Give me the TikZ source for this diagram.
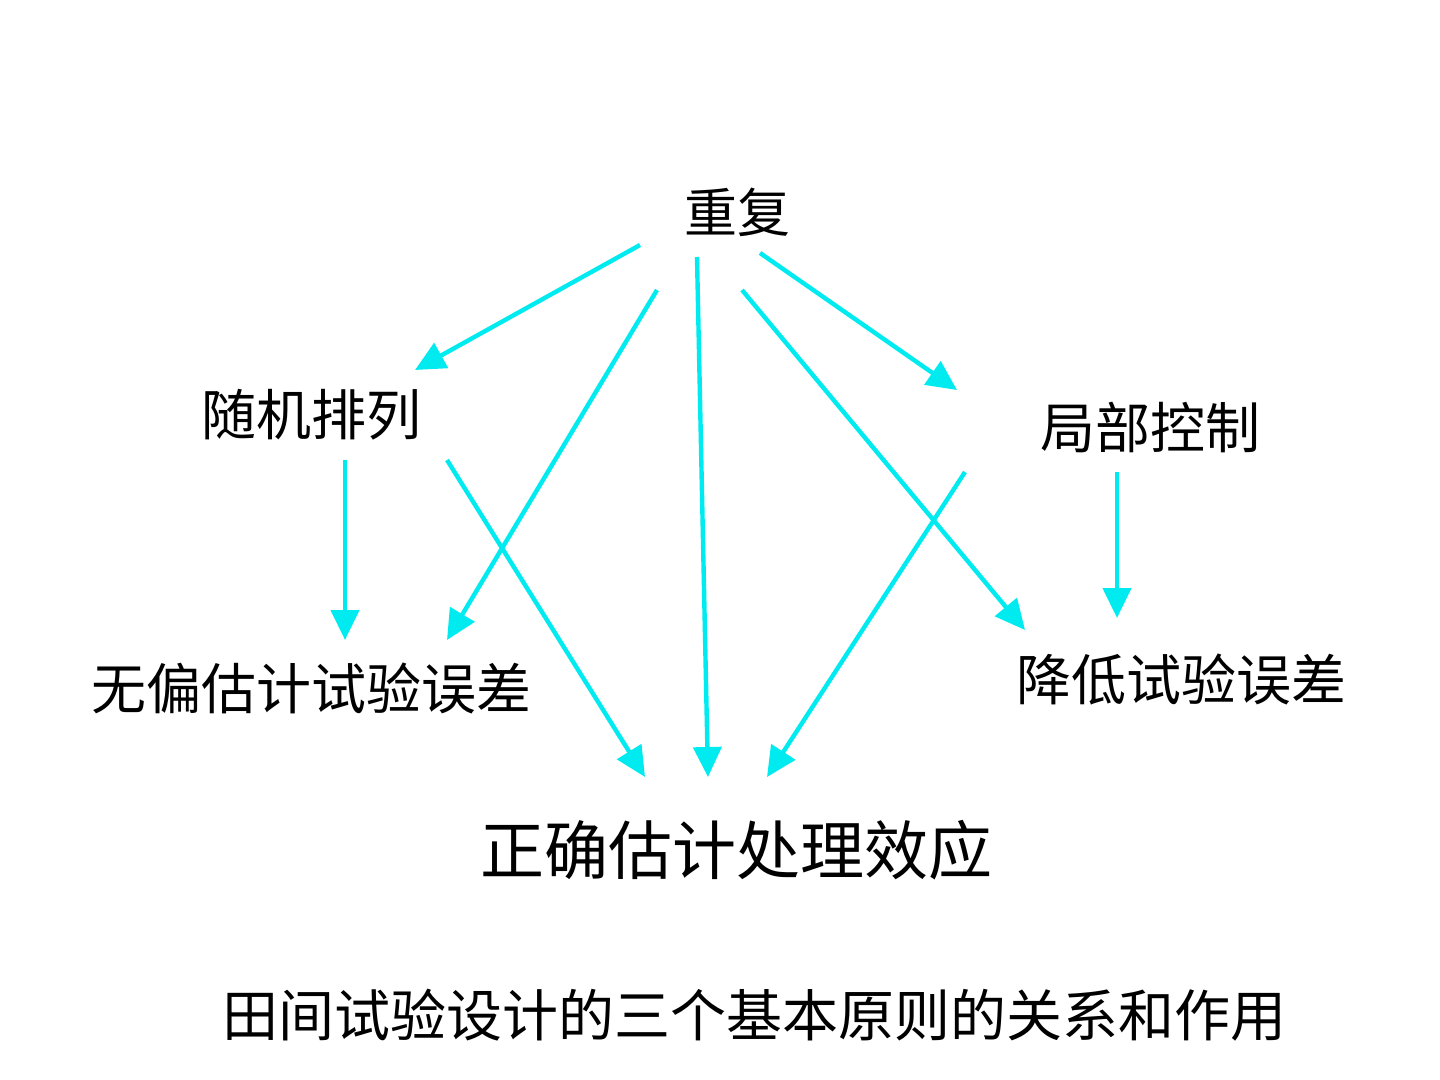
\documentclass[tikz,border=0pt]{standalone}
\usepackage{fontspec}
\newfontfamily\cjk{Noto Sans CJK SC}
\usetikzlibrary{arrows.meta}
\definecolor{arrowcyan}{RGB}{0,235,240}

\begin{document}
\begin{tikzpicture}[x=0.5pt, y=-0.5pt, font=\cjk,
  principle/.style={inner sep=0pt, font=\cjk\fontsize{27.5pt}{30pt}\selectfont},
  result/.style={inner sep=0pt, font=\cjk\fontsize{32pt}{36pt}\selectfont},
  arr/.style={draw=arrowcyan, line width=2.2pt, -{Triangle[length=15pt, width=14pt]}}]
\useasboundingbox (0,0) rectangle (1440,1080);
% the three principles
\node[principle, font=\cjk\fontsize{26.5pt}{30pt}\selectfont] (chong) at (737,212) {重复};
\node[principle] (suiji) at (311,415) {随机排列};
\node[principle] (jubu) at (1150,427) {局部控制};
% what they give
\node[principle] (wupian) at (311,688) {无偏估计试验误差};
\node[principle] (jiangdi) at (1181,680) {降低试验误差};
\node[result] (zhengque) at (736,850) {正确估计处理效应};
\node[inner sep=0pt, font=\cjk\fontsize{28pt}{32pt}\selectfont] (caption) at (754,1015) {田间试验设计的三个基本原则的关系和作用};

\draw[arr] ([shift={(-97,33)}]chong.center) -- ([shift={(104,-45)}]suiji.center);
\draw[arr] ([shift={(-80,78)}]chong.center) -- ([shift={(136,-48)}]wupian.center);
\draw[arr] ([shift={(-40,45)}]chong.center) -- ([shift={(-28,-73)}]zhengque.center);
\draw[arr] ([shift={(5,78)}]chong.center) -- ([shift={(-156,-50)}]jiangdi.center);
\draw[arr] ([shift={(23,41)}]chong.center) -- ([shift={(-193,-37)}]jubu.center);
\draw[arr] ([shift={(34,45)}]suiji.center) -- ([shift={(34,-48)}]wupian.center);
\draw[arr] ([shift={(136,45)}]suiji.center) -- ([shift={(-91,-73)}]zhengque.center);
\draw[arr] ([shift={(-33,45)}]jubu.center) -- ([shift={(-64,-62)}]jiangdi.center);
\draw[arr] ([shift={(-185,45)}]jubu.center) -- ([shift={(31,-73)}]zhengque.center);
\end{tikzpicture}
\end{document}
